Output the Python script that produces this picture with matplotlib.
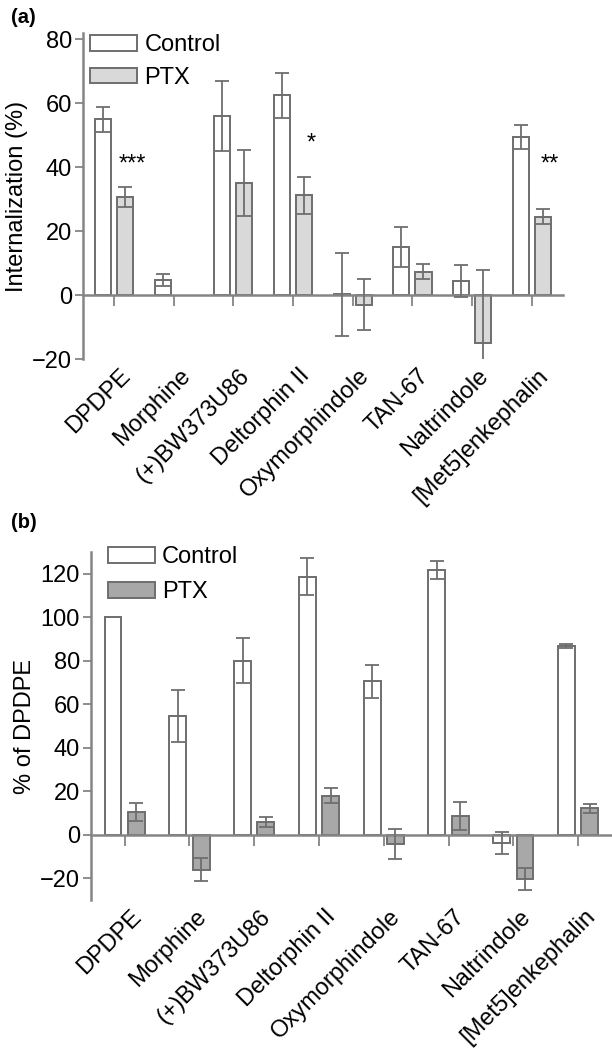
import matplotlib
matplotlib.use('Agg')
import matplotlib.pyplot as plt
import matplotlib.transforms as mtransforms
import numpy as np

plt.rcParams['font.family'] = ['Liberation Sans', 'DejaVu Sans']

drugs = ['DPDPE', 'Morphine', '(+)BW373U86', 'Deltorphin II', 'Oxymorphindole',
         'TAN-67', 'Naltrindole', '[Met5]enkephalin']

# panel (a): internalization (%)
a_ctrl = [55.0, 4.7, 56.0, 62.5, 0.3, 15.1, 4.4, 49.5]
a_ctrl_err = [4.0, 1.8, 11.0, 7.0, 13.0, 6.3, 5.0, 3.8]
a_ptx = [30.7, np.nan, 35.0, 31.3, -3.0, 7.3, -15.0, 24.5]
a_ptx_err = [3.2, np.nan, 10.3, 5.8, 8.0, 2.3, 22.7, 2.3]
a_stars = {0: '***', 3: '*', 7: '**'}
a_star_y = [41, 47.5, 41]

# panel (b): % of DPDPE
b_ctrl = [100.0, 54.5, 80.0, 118.6, 70.5, 121.7, -3.8, 86.8]
b_ctrl_err = [0.0, 12.0, 10.4, 8.6, 7.6, 4.2, 5.0, 1.0]
b_ptx = [10.5, -16.0, 5.7, 18.0, -4.3, 8.8, -20.4, 12.1]
b_ptx_err = [4.3, 5.4, 2.3, 3.5, 7.0, 6.4, 5.0, 1.9]

edge = '#6e6e6e'
axcol = '#858585'
fs = 17

fig = plt.figure(figsize=(6.12, 10.51), dpi=100)
ax_a = fig.add_axes([0.1356, 0.6584, 0.784, 0.3102])
ax_b = fig.add_axes([0.1487, 0.1437, 0.851, 0.3311])


def draw(ax, ctrl, cerr, ptx, perr, ptx_color, ylim, yticks, ylabel, off, w,
         spacing, leg_anchor):
    x = np.arange(len(drugs))
    ax.bar(x - off, ctrl, w, color='white', edgecolor=edge, linewidth=1.4,
           label='Control', zorder=2)
    ax.bar(x + off, ptx, w, color=ptx_color, edgecolor=edge, linewidth=1.4,
           label='PTX', zorder=2)
    ce = np.array(cerr, dtype=float)
    ce[ce == 0] = np.nan
    ax.errorbar(x - off, ctrl, yerr=ce, fmt='none', ecolor=edge, elinewidth=1.3,
                capsize=5, capthick=1.3, zorder=3)
    ax.errorbar(x + off, ptx, yerr=perr, fmt='none', ecolor=edge, elinewidth=1.3,
                capsize=5, capthick=1.3, zorder=3)
    ax.set_xlim(-0.52, 7.52)
    ax.set_ylim(*ylim)
    ax.set_yticks(yticks)
    ax.tick_params(axis='y', labelsize=fs, length=6, width=1.3, color=axcol, pad=2)
    ax.set_xticks(x)
    ax.set_xticklabels([])
    ax.tick_params(axis='x', direction='out', length=8, width=1.3, color=axcol)
    ax.spines['bottom'].set_position(('data', 0))
    for s in ['top', 'right']:
        ax.spines[s].set_visible(False)
    for s in ['left', 'bottom']:
        ax.spines[s].set_color(axcol)
        ax.spines[s].set_linewidth(1.8)
    ax.set_ylabel(ylabel, fontsize=fs, labelpad=3)
    trans = mtransforms.blended_transform_factory(ax.transData, ax.transAxes)
    trans = trans + mtransforms.ScaledTranslation(4 / 72, -4 / 72, fig.dpi_scale_trans)
    for i, name in enumerate(drugs):
        ax.text(i, 0, name, transform=trans, rotation=45, ha='right', va='top',
                rotation_mode='anchor', fontsize=fs)
    ax.legend(loc='upper left', bbox_to_anchor=leg_anchor, frameon=False,
              fontsize=fs, handlelength=2.0, handleheight=0.65,
              labelspacing=spacing, handletextpad=0.3, borderaxespad=0.2)


draw(ax_a, a_ctrl, a_ctrl_err, a_ptx, a_ptx_err, '#d9d9d9', (-20, 82),
     [-20, 0, 20, 40, 60, 80], 'Internalization (%)', 0.185, 0.27, 0.45,
     (-0.015, 1.04))
draw(ax_b, b_ctrl, b_ctrl_err, b_ptx, b_ptx_err, '#a8a8a8', (-30, 130),
     [-20, 0, 20, 40, 60, 80, 100, 120], '% of DPDPE', 0.18, 0.26, 0.55,
     (0.005, 1.058))

for (i, s), yv in zip(a_stars.items(), a_star_y):
    ax_a.text(i + 0.3, yv, s, ha='center', va='center', fontsize=fs)

fig.text(0.018, 0.983, '(a)', fontsize=14.5, fontweight='bold', va='center')
fig.text(0.018, 0.503, '(b)', fontsize=14.5, fontweight='bold', va='center')

fig.savefig('out.png', dpi=100)
